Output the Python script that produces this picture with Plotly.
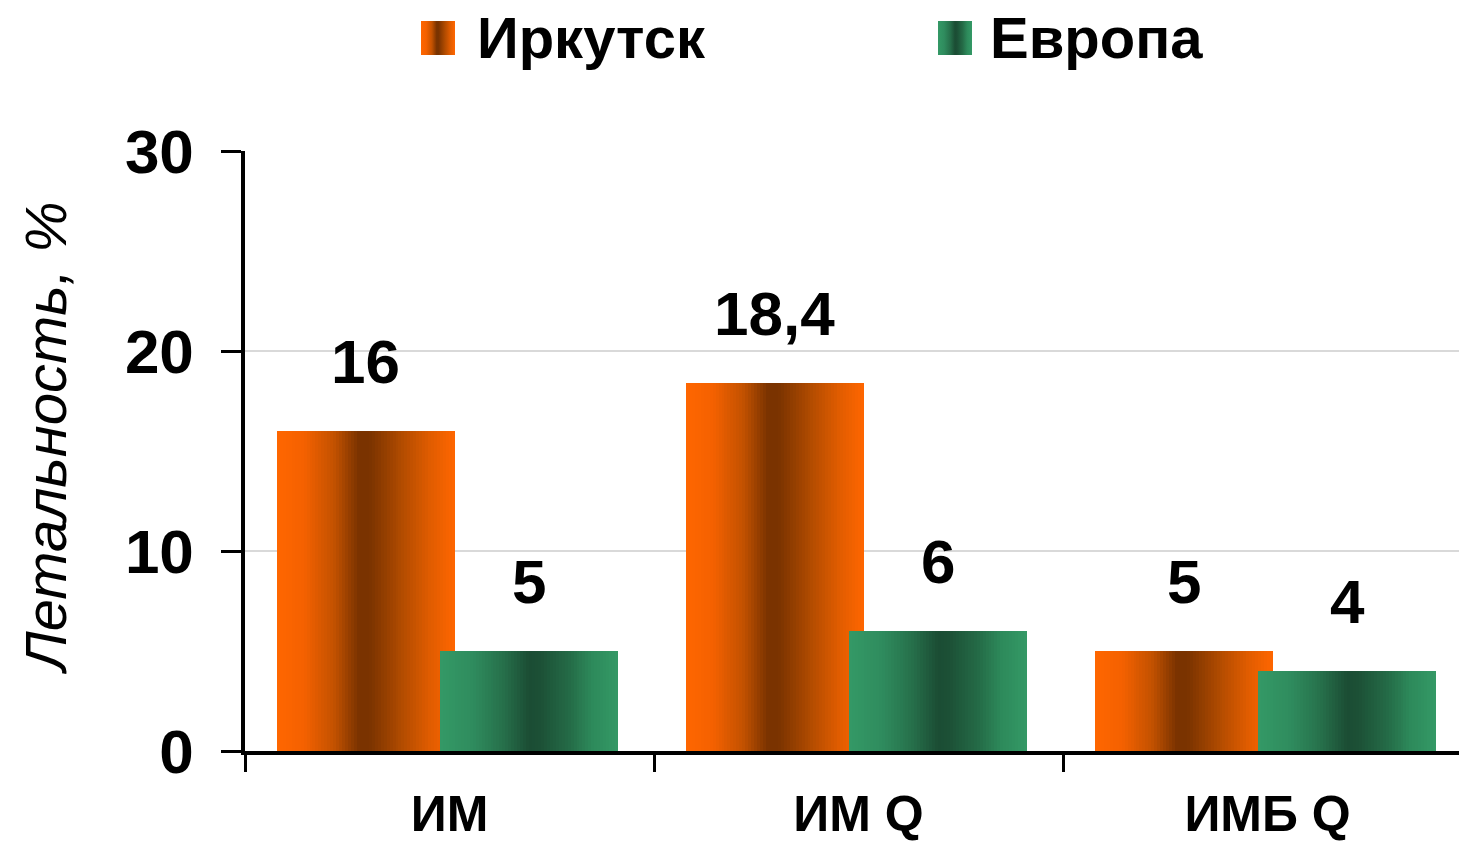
import base64
import plotly.graph_objects as go

# Data
categories = ["ИМ", "ИМ Q", "ИМБ Q"]
irkutsk = [16, 18.4, 5]
europe = [5, 6, 4]
series_names = ["Иркутск", "Европа"]
y_ticks = [0, 10, 20, 30]

# Horizontal gradient stops (position across bar width, colour)
ORANGE_STOPS = [(0.0, "#FF6600"), (0.15, "#F46100"), (0.32, "#C45200"),
                (0.46, "#7A3300"), (0.52, "#7A3300"), (0.70, "#B04B00"),
                (0.86, "#E05C00"), (1.0, "#FF6600")]
GREEN_STOPS = [(0.0, "#349966"), (0.18, "#2F8C5E"), (0.36, "#266F4A"),
               (0.50, "#1B4D34"), (0.56, "#1C5036"), (0.72, "#246A46"),
               (0.86, "#2D8A5B"), (1.0, "#349966")]

FONT = "Liberation Sans, Arial, sans-serif"


def hex_to_rgb(h):
    h = h.lstrip("#")
    return tuple(int(h[i:i + 2], 16) for i in (0, 2, 4))


def gradient_color(stops, t):
    for (p0, c0), (p1, c1) in zip(stops[:-1], stops[1:]):
        if p0 <= t <= p1:
            f = 0 if p1 == p0 else (t - p0) / (p1 - p0)
            a, b = hex_to_rgb(c0), hex_to_rgb(c1)
            return "rgb(%d,%d,%d)" % tuple(round(a[k] + (b[k] - a[k]) * f) for k in range(3))
    return stops[-1][1]


def gradient_svg(stops):
    stop_tags = "".join(
        '<stop offset="%g" stop-color="%s"/>' % (p, c) for p, c in stops)
    svg = ('<svg xmlns="http://www.w3.org/2000/svg" width="100" height="100">'
           '<defs><linearGradient id="g" x1="0" y1="0" x2="1" y2="0">%s</linearGradient></defs>'
           '<rect width="100" height="100" fill="url(#g)"/></svg>') % stop_tags
    return "data:image/svg+xml;base64," + base64.b64encode(svg.encode()).decode()


# Bar geometry in category units (bars overlap slightly)
BAR_W = 0.435
OFFSETS = [-0.422, -0.023]
N_STRIPS = 60

fig = go.Figure()

for values, offset, stops, name in zip([irkutsk, europe], OFFSETS,
                                       [ORANGE_STOPS, GREEN_STOPS], series_names):
    step = BAR_W / N_STRIPS
    for i in range(N_STRIPS):
        t = (i + 0.5) / N_STRIPS
        start = offset + i * step
        width = min(step * 1.8, offset + BAR_W - start)
        fig.add_trace(go.Bar(
            x=categories, y=values,
            offset=start, width=width,
            marker=dict(color=gradient_color(stops, t), line=dict(width=0)),
            showlegend=False, hoverinfo="skip", name=name,
        ))

    # value labels above each bar
    for k, v in enumerate(values):
        label = ("%g" % v).replace(".", ",")
        fig.add_annotation(
            x=k + offset + BAR_W / 2, y=v, xref="x", yref="y",
            text=label, showarrow=False, yanchor="middle", yshift=70,
            font=dict(family=FONT, size=62, color="black", weight="bold"),
        )

# Legend drawn as gradient swatches plus labels
PLOT_L, PLOT_W, PLOT_B, PLOT_H = 245, 1214, 751, 600


def px_x(px):
    return (px - PLOT_L) / PLOT_W


def px_y(py):
    return (PLOT_B - py) / PLOT_H


legend_items = [(421, 475, ORANGE_STOPS, series_names[0]),
                (938, 988, GREEN_STOPS, series_names[1])]
for sx, tx, stops, name in legend_items:
    fig.add_layout_image(
        source=gradient_svg(stops), xref="paper", yref="paper",
        x=px_x(sx), y=px_y(21), sizex=34 / PLOT_W, sizey=34 / PLOT_H,
        xanchor="left", yanchor="top", sizing="stretch", layer="above",
    )
    fig.add_annotation(
        x=px_x(tx), y=px_y(37), xref="paper", yref="paper",
        text=name, showarrow=False, xanchor="left", yanchor="middle",
        font=dict(family=FONT, size=58, color="black", weight="bold"),
    )

# Y-axis title
fig.add_annotation(
    x=px_x(45), y=px_y(438), xref="paper", yref="paper",
    text="Летальность, %", showarrow=False, textangle=-90,
    xanchor="center", yanchor="middle",
    font=dict(family=FONT, size=58, color="black", style="italic"),
)

fig.update_layout(
    width=1459, height=845,
    margin=dict(l=245, r=0, t=151, b=94, pad=0),
    barmode="overlay", bargap=0,
    paper_bgcolor="white", plot_bgcolor="white",
    showlegend=False,
    xaxis=dict(
        type="category", categoryorder="array", categoryarray=categories,
        range=[-0.5, 2.468], automargin=False,
        showline=True, linecolor="black", linewidth=4,
        ticks="outside", tickson="boundaries", ticklen=17, tickwidth=3,
        tickcolor="black", showgrid=False, zeroline=False,
        ticklabelstandoff=16,
        tickfont=dict(family=FONT, size=50, color="black", weight="bold"),
    ),
    yaxis=dict(
        range=[0, 30], tickvals=y_ticks, ticktext=[str(v) for v in y_ticks],
        automargin=False,
        showline=True, linecolor="black", linewidth=3.5,
        ticks="outside", ticklen=20, tickwidth=3, tickcolor="black",
        showgrid=True, gridcolor="#D9D9D9", gridwidth=1.5, zeroline=False,
        ticklabelstandoff=15,
        tickfont=dict(family=FONT, size=62, color="black", weight="bold"),
    ),
)

fig.write_html("out.html")
